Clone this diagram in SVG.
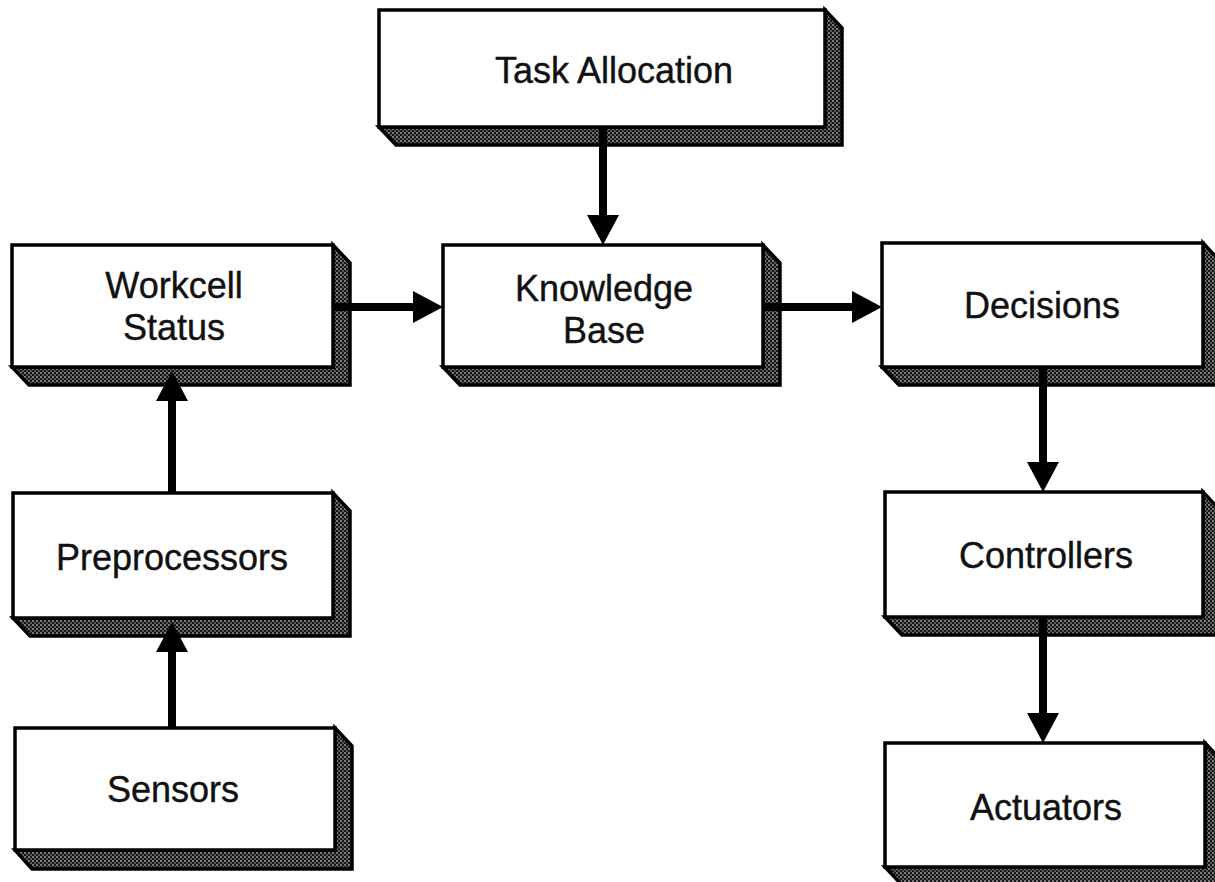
<svg xmlns="http://www.w3.org/2000/svg" width="1215" height="882" viewBox="0 0 1215 882">
  <style>
    .front { fill: #ffffff; stroke: #000; stroke-width: 3.5; stroke-linejoin: miter; }
    .side { fill: url(#stipple); stroke: #000; stroke-width: 3.5; stroke-linejoin: miter; }
    .label { font-family: "Liberation Sans", Arial, Helvetica, sans-serif; font-size: 36px; fill: #111; stroke: #111; stroke-width: 0.4; text-anchor: middle; }
    .conn { stroke: #000; stroke-width: 8; fill: none; marker-end: url(#head); }
  </style>
  <defs>
    <!-- dark stippled fill for the extruded faces -->
    <pattern id="stipple" width="4" height="4" patternUnits="userSpaceOnUse">
      <rect width="4" height="4" fill="#161616"/>
      <circle cx="1" cy="1" r="0.9" fill="#a8a8a8"/>
      <circle cx="3" cy="3" r="0.9" fill="#7a7a7a"/>
    </pattern>
    <marker id="head" markerUnits="userSpaceOnUse" viewBox="0 0 30 32" refX="2" refY="16" markerWidth="30" markerHeight="32" orient="auto">
      <path d="M0,0 L30,16 L0,32 Z" fill="#000"/>
    </marker>
  </defs>

  <!-- boxes: extruded side/bottom face then front face -->
  <g id="task-allocation">
    <path class="side" d="M379,127 L396,145 L842,145 L842,28 L825,10 L825,127 Z"/>
    <rect class="front" x="379" y="10" width="446" height="117"/>
    <text class="label" x="614" y="83">Task Allocation</text>
  </g>

  <g id="workcell-status">
    <path class="side" d="M12,367 L29,385 L350,385 L350,263 L333,245 L333,367 Z"/>
    <rect class="front" x="12" y="245" width="321" height="122"/>
    <text class="label" x="174" y="298">Workcell</text>
    <text class="label" x="174" y="340">Status</text>
  </g>

  <g id="knowledge-base">
    <path class="side" d="M443,367 L460,385 L780,385 L780,263 L763,245 L763,367 Z"/>
    <rect class="front" x="443" y="245" width="320" height="122"/>
    <text class="label" x="604" y="301">Knowledge</text>
    <text class="label" x="604" y="343">Base</text>
  </g>

  <g id="decisions">
    <path class="side" d="M882,367 L899,385 L1220,385 L1220,261 L1203,243 L1203,367 Z"/>
    <rect class="front" x="882" y="243" width="321" height="124"/>
    <text class="label" x="1042" y="318">Decisions</text>
  </g>

  <g id="preprocessors">
    <path class="side" d="M13,618 L30,636 L350,636 L350,511 L333,493 L333,618 Z"/>
    <rect class="front" x="13" y="493" width="320" height="125"/>
    <text class="label" x="172" y="570">Preprocessors</text>
  </g>

  <g id="controllers">
    <path class="side" d="M885,617 L902,635 L1220,635 L1220,510 L1203,492 L1203,617 Z"/>
    <rect class="front" x="885" y="492" width="318" height="125"/>
    <text class="label" x="1046" y="568">Controllers</text>
  </g>

  <g id="sensors">
    <path class="side" d="M15,850 L32,869 L352,869 L352,746 L335,728 L335,850 Z"/>
    <rect class="front" x="15" y="728" width="320" height="122"/>
    <text class="label" x="173" y="802">Sensors</text>
  </g>

  <g id="actuators">
    <path class="side" d="M885,867 L902,885 L1222,885 L1222,761 L1205,743 L1205,867 Z"/>
    <rect class="front" x="885" y="743" width="320" height="124"/>
    <text class="label" x="1046" y="820">Actuators</text>
  </g>

  <!-- connectors -->
  <g id="connectors">
    <line class="conn" x1="603" y1="127" x2="603" y2="217"/>
    <line class="conn" x1="333" y1="307" x2="415" y2="307"/>
    <line class="conn" x1="763" y1="307" x2="854" y2="307"/>
    <line class="conn" x1="172" y1="493" x2="172" y2="399"/>
    <line class="conn" x1="172" y1="728" x2="172" y2="650"/>
    <line class="conn" x1="1043" y1="367" x2="1043" y2="464"/>
    <line class="conn" x1="1043" y1="617" x2="1043" y2="715"/>
  </g>
</svg>
